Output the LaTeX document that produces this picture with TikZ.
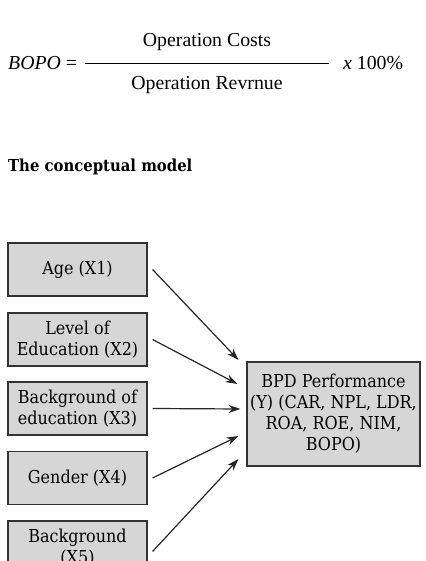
\documentclass[tikz,border=0pt]{standalone}
\usepackage{fontspec}
\setmainfont{Liberation Serif}
\newfontfamily\boxfont{DejaVu Serif Condensed}
\usetikzlibrary{arrows.meta}
\definecolor{boxfill}{HTML}{D6D6D6}
\definecolor{boxline}{HTML}{333333}
\tikzset{
  inbox/.style={draw=boxline, line width=1.1pt, fill=boxfill, minimum width=139pt, minimum height=53pt, inner sep=0pt, align=center, font=\boxfont\fontsize{17.8}{21}\selectfont},
  outbox/.style={draw=boxline, line width=1.1pt, fill=boxfill, minimum width=173pt, minimum height=104pt, inner sep=0pt, align=center, font=\boxfont\fontsize{17.8}{21}\selectfont},
  conn/.style={line width=1.2pt, draw=black!85, -{Stealth[length=12pt,width=8pt]}},
  formula/.style={inner sep=0pt, font=\fontsize{19.8}{22}\selectfont}
}
\begin{document}
\begin{tikzpicture}[x=1pt,y=1pt]
\useasboundingbox (0,0) rectangle (425,561);
\clip (0,0) rectangle (425,561);
% formula
\node[formula, anchor=west] (lhs) at (8,498) {\textit{BOPO} =};
\coordinate (fl) at (85,498);
\coordinate (fr) at (329,498);
\draw[line width=0.9pt] (fl) -- (fr);
\node[formula] (num) at (207,519) {Operation Costs};
\node[formula] (den) at (207,476) {Operation Revrnue};
\node[formula, anchor=west] (pct) at (343,498) {\textit{x} 100\%};
% title
\node[anchor=base west, inner sep=0pt, font=\boxfont\bfseries\fontsize{16.5}{19}\selectfont] (title) at (8,389) {The conceptual model};
% boxes
\node[inbox] (x1) at (77.5,291.5) {Age (X1)};
\node[inbox] (x2) at (77.5,221.5) {Level of\\Education (X2)};
\node[inbox] (x3) at (77.5,152.5) {Background of\\education (X3)};
\node[inbox] (x4) at (77.5,83) {Gender (X4)};
\node[inbox] (x5) at (77.5,13.5) {Background\\(X5)};
\node[outbox] (y) at (333.5,147) {BPD Performance\\(Y) (CAR, NPL, LDR,\\ROA, ROE, NIM,\\BOPO)};
% connectors
\draw[conn] ([xshift=5pt]x1.east) -- ([xshift=-8pt,yshift=54pt]y.west);
\draw[conn] ([xshift=5pt]x2.east) -- ([xshift=-9pt,yshift=30pt]y.west);
\draw[conn] ([xshift=5pt]x3.east) -- ([xshift=-6pt,yshift=5pt]y.west);
\draw[conn] ([xshift=5pt]x4.east) -- ([xshift=-8pt,yshift=-22pt]y.west);
\draw[conn] ([xshift=5pt,yshift=-4pt]x5.east) -- ([xshift=-8pt,yshift=-45pt]y.west);
\end{tikzpicture}
\end{document}
